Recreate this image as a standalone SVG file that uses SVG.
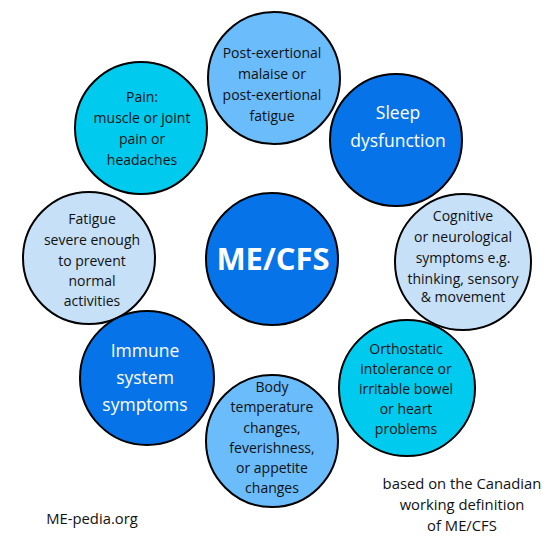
<svg xmlns="http://www.w3.org/2000/svg" width="550" height="550" viewBox="0 0 550 550">
<style>
circle{stroke:#000;stroke-width:2}
.lb{fill:#6bbcfb}.db{fill:#0773e8}.cy{fill:#00cbef}.pb{fill:#c6e0f7}
text{font-family:"Open Sans","Noto Sans",sans-serif;text-anchor:middle}
.t{font-size:14px;fill:#111}
.w{font-size:17.5px;fill:#fff}
.big{font-size:31px;font-weight:bold;fill:#fff}
.n{font-size:14.8px;fill:#111}
</style>
<rect width="550" height="550" fill="#fff"/>
<g id="connectors"></g>
<g id="pain"><circle class="cy" cx="141" cy="128" r="66"/>
<text class="t" x="142" y="102">Pain:</text><text class="t" x="142" y="123">muscle or joint</text><text class="t" x="142" y="144">pain or</text><text class="t" x="142" y="165">headaches</text></g>
<g id="sleep"><circle class="db" cx="396" cy="140" r="66"/>
<text class="w" x="398" y="119">Sleep</text><text class="w" x="398" y="147">dysfunction</text></g>
<g id="pem"><circle class="lb" cx="274" cy="78" r="66"/>
<text class="t" x="272" y="58">Post-exertional</text><text class="t" x="272" y="79">malaise or</text><text class="t" x="272" y="100">post-exertional</text><text class="t" x="272" y="121">fatigue</text></g>
<g id="fatigue"><circle class="pb" cx="89" cy="258" r="66"/>
<text class="t" x="92" y="224">Fatigue</text><text class="t" x="92" y="245">severe enough</text><text class="t" x="92" y="266">to prevent</text><text class="t" x="92" y="286">normal</text><text class="t" x="92" y="306">activities</text></g>
<g id="cognitive"><circle class="pb" cx="463" cy="262" r="68"/>
<text class="t" x="463" y="221">Cognitive</text><text class="t" x="463" y="242">or neurological</text><text class="t" x="463" y="263">symptoms e.g.</text><text class="t" x="463" y="284">thinking, sensory</text><text class="t" x="463" y="302">&amp; movement</text></g>
<g id="body"><circle class="lb" cx="272" cy="441" r="66"/>
<text class="t" x="272" y="392">Body</text><text class="t" x="272" y="412">temperature</text><text class="t" x="272" y="433">changes,</text><text class="t" x="272" y="453">feverishness,</text><text class="t" x="272" y="473">or appetite</text><text class="t" x="272" y="493">changes</text></g>
<g id="immune"><circle class="db" cx="147" cy="378" r="67"/>
<text class="w" x="145" y="357">Immune</text><text class="w" x="145" y="384">system</text><text class="w" x="145" y="411">symptoms</text></g>
<g id="orthostatic"><circle class="cy" cx="407" cy="388" r="68"/>
<text class="t" x="406" y="354">Orthostatic</text><text class="t" x="406" y="374">intolerance or</text><text class="t" x="406" y="394">irritable bowel</text><text class="t" x="406" y="414">or heart</text><text class="t" x="406" y="434">problems</text></g>
<g id="center"><circle class="db" cx="272" cy="259" r="66"/>
<text class="big" x="273" y="270">ME/CFS</text></g>
<text class="n" x="92" y="524">ME-pedia.org</text>
<text class="n" x="462" y="489">based on the Canadian</text>
<text class="n" x="462" y="510">working definition</text>
<text class="n" x="462" y="531">of ME/CFS</text>
</svg>
